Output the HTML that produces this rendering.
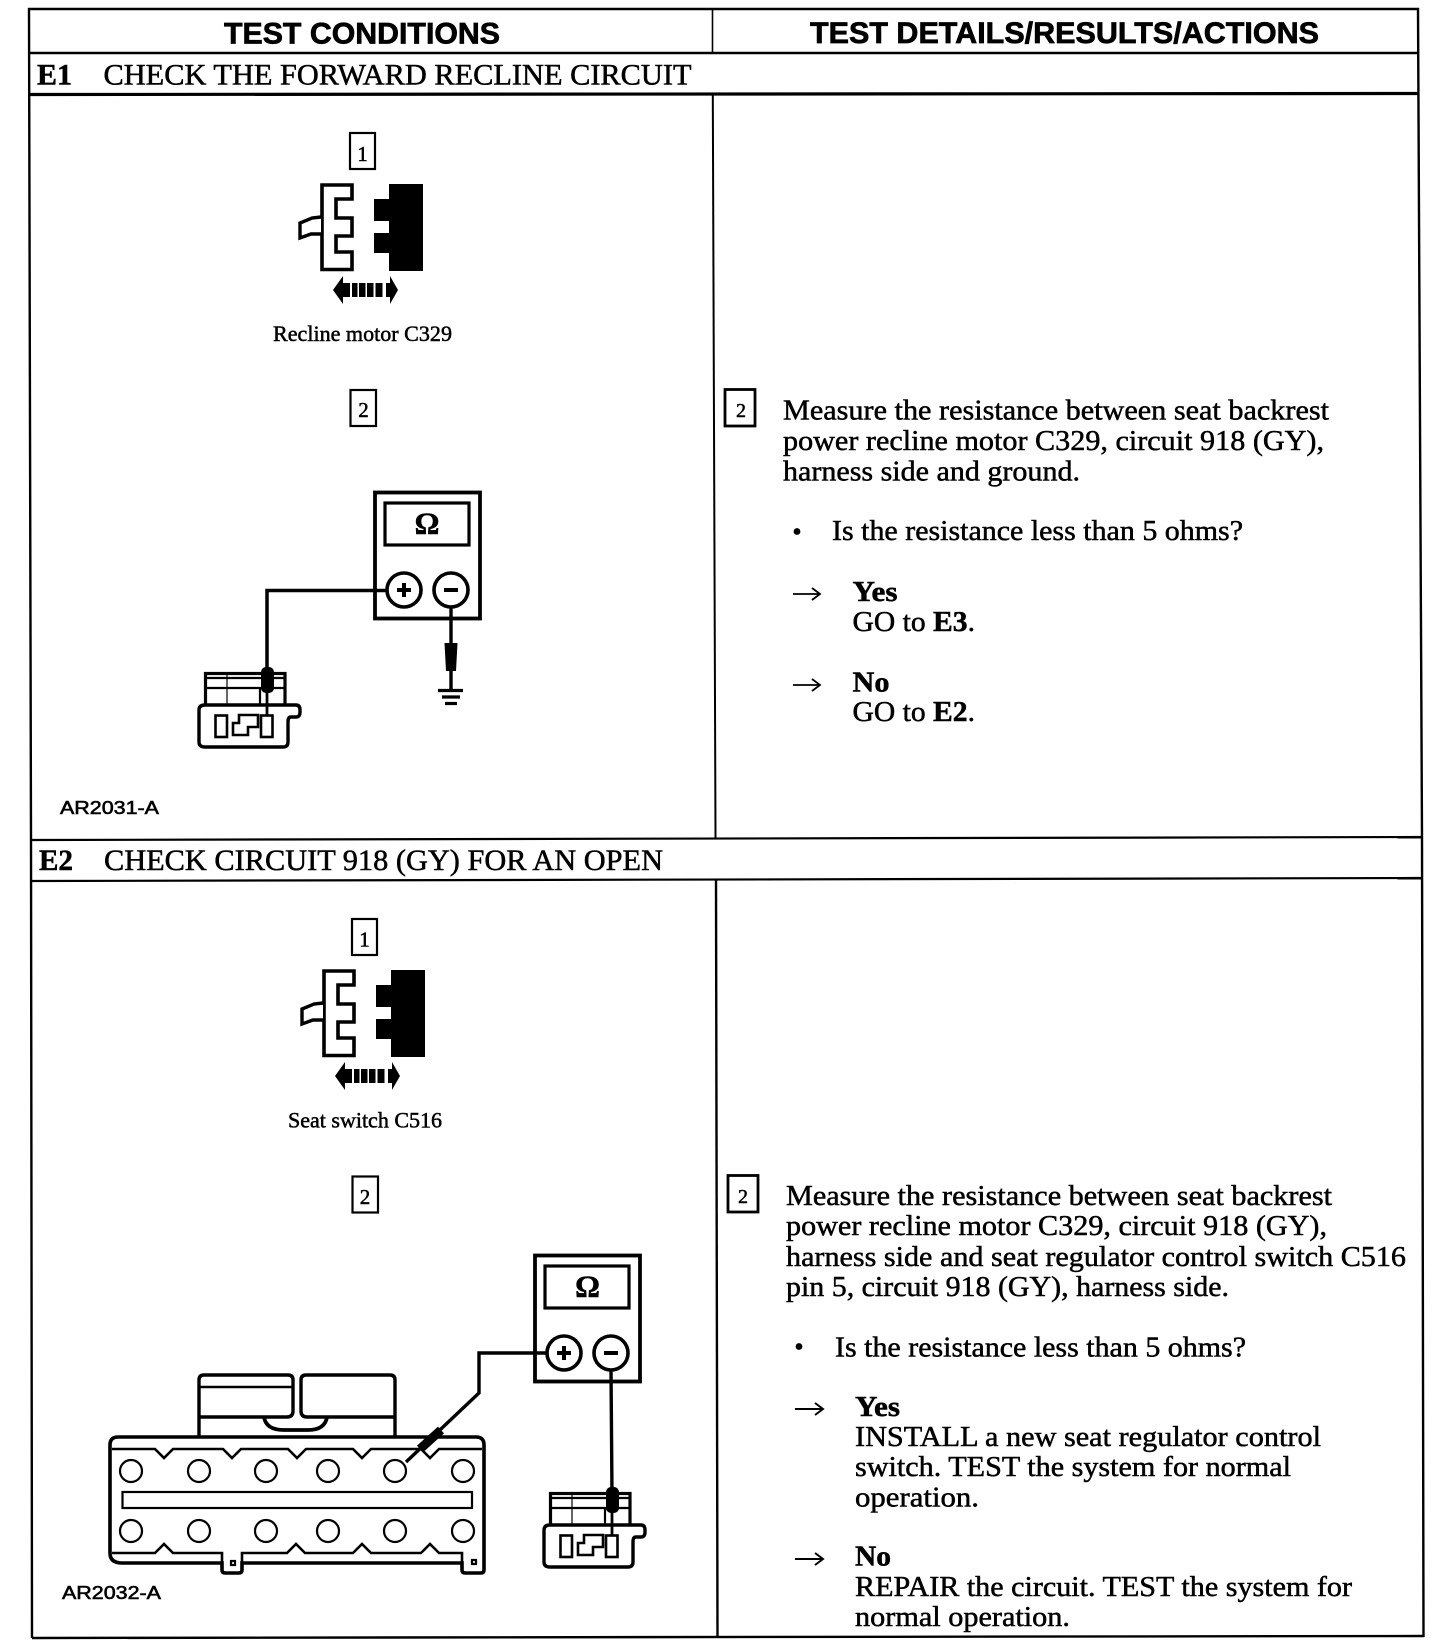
<!DOCTYPE html>
<html lang="en">
<head>
<meta charset="utf-8">
<title>Test Conditions E1 E2</title>
<style>
html,body{margin:0;padding:0;background:#fff;width:1456px;height:1648px;overflow:hidden}
svg{display:block}
.s{font-family:"Liberation Serif",serif;fill:#000;stroke:#000;stroke-width:.5}
.h{font-family:"Liberation Sans",sans-serif;font-weight:bold;fill:#000;stroke:#000;stroke-width:.7}
.a{font-family:"Liberation Sans",sans-serif;fill:#000;stroke:#000;stroke-width:.6}
.b{font-weight:bold}
.l{fill:none;stroke:#000}
</style>
</head>
<body>
<svg xmlns="http://www.w3.org/2000/svg" width="1456" height="1648" viewBox="0 0 1456 1648">
<defs>
<g id="conn1">
  <path d="M352 185V199H336V218H352V236H336V252H352V269.500H322V185Z" fill="#fff" stroke="#000" stroke-width="3.6"/>
  <path d="M321 217L312 218L300 223V238L311 234L321 234" fill="#fff" stroke="#000" stroke-width="3.4"/>
  <path d="M389 184H423V271H389V253H374V233H389V221H374V199H389Z" fill="#000"/>
  <path d="M333 290L343 276V283H350V297H343V304Z" fill="#000"/>
  <path d="M398 290L390 276V283H386V297H390V304Z" fill="#000"/>
  <rect x="352" y="283" width="5.500" height="14"/><rect x="359" y="283" width="6.500" height="14"/>
  <rect x="367" y="283" width="6.500" height="14"/><rect x="375.500" y="283" width="7" height="14"/>
</g>
<g id="meter">
  <rect x="375" y="492.500" width="105" height="126" fill="#fff" stroke="#000" stroke-width="3.800"/>
  <rect x="385" y="503" width="84" height="42" fill="#fff" stroke="#000" stroke-width="3.200"/>
  <circle cx="404" cy="590" r="17" fill="#fff" stroke="#000" stroke-width="3.600"/>
  <circle cx="451" cy="590" r="17" fill="#fff" stroke="#000" stroke-width="3.600"/>
  <path d="M397 590H411M404 583V597M444 590H458" class="l" stroke-width="4"/>
</g>
<g id="conn2">
  <rect x="205.500" y="673.500" width="79.500" height="32" fill="#fff" stroke="#000" stroke-width="3.200"/>
  <path d="M205 678H285M205 688H285" class="l" stroke-width="2.200"/>
  <path d="M227 673V705" class="l" stroke-width="1.200"/>
  <path d="M260 688V705" class="l" stroke-width="2.200"/>
  <path d="M205 705H296Q300 705 300 710V712Q300 717 296 717H291Q288 717 288 722V742Q288 747 283 747H205Q199 747 199 742V710Q199 705 205 705Z" fill="#fff" stroke="#000" stroke-width="3.400"/>
  <rect x="215.500" y="715.500" width="11.500" height="21.500" fill="#fff" stroke="#000" stroke-width="2.600"/>
  <rect x="261" y="715.500" width="11.500" height="21.500" fill="#fff" stroke="#000" stroke-width="2.600"/>
  <path d="M233 735V723H239V715H258V727H248V735Z" fill="#fff" stroke="#000" stroke-width="2.600"/>
  <rect x="261" y="667" width="13" height="26" rx="5" fill="#000"/>
  <path d="M267 690V716" class="l" stroke-width="2.800"/>
</g>
</defs>

<!-- table lines -->
<g class="l">
  <path d="M28 9H1419" stroke-width="2.400"/>
  <path d="M29 53H1418" stroke-width="2.600"/>
  <path d="M29 94.500L1418 93.500" stroke-width="3.200"/>
  <path d="M29 8L31 840L32 1638" stroke-width="2.400"/>
  <path d="M712.500 9V53" stroke-width="1.600"/>
  <path d="M712.800 94L715.500 838" stroke-width="2"/>
  <path d="M716 880L717.500 1637" stroke-width="2.400"/>
  <path d="M1418 8L1422 837L1423.500 1637" stroke-width="2.400"/>
  <path d="M31 840L1422 837" stroke-width="2.200"/>
  <path d="M31 881L1422 878" stroke-width="2.200"/>
  <path d="M32 1638L1424 1636" stroke-width="2.400"/>
</g>

<!-- headers -->
<text class="h" x="224" y="43.500" font-size="30" textLength="276" lengthAdjust="spacingAndGlyphs">TEST CONDITIONS</text>
<text class="h" x="810" y="43" font-size="30" textLength="509" lengthAdjust="spacingAndGlyphs">TEST DETAILS/RESULTS/ACTIONS</text>

<text class="s b" x="37" y="84.500" font-size="30" textLength="35" lengthAdjust="spacingAndGlyphs">E1</text>
<text class="s" x="103.500" y="84.500" font-size="30" textLength="588" lengthAdjust="spacingAndGlyphs">CHECK THE FORWARD RECLINE CIRCUIT</text>
<text class="s b" x="39" y="870" font-size="30" textLength="34" lengthAdjust="spacingAndGlyphs">E2</text>
<text class="s" x="104" y="870" font-size="30" textLength="559" lengthAdjust="spacingAndGlyphs">CHECK CIRCUIT 918 (GY) FOR AN OPEN</text>

<!-- E1 left -->
<rect x="350" y="133" width="25" height="36" fill="#fff" stroke="#000" stroke-width="2.200"/>
<text class="s" x="362.500" y="161" font-size="21" text-anchor="middle">1</text>
<use href="#conn1"/>
<text class="s" x="273" y="341" font-size="22" textLength="179" lengthAdjust="spacingAndGlyphs">Recline motor C329</text>
<rect x="350.500" y="390" width="25.500" height="36" fill="#fff" stroke="#000" stroke-width="2.200"/>
<text class="s" x="363.500" y="417" font-size="21" text-anchor="middle">2</text>
<use href="#conn2"/>
<use href="#meter"/>
<path d="M387 590.500H267V670" class="l" stroke-width="3.500"/>
<path d="M451 607V690" class="l" stroke-width="3.400"/>
<path d="M444.500 643H457.500L456 671H446Z" fill="#000"/>
<path d="M438 690.500H463" class="l" stroke-width="3.200"/>
<path d="M442 697H460" class="l" stroke-width="3.200"/>
<path d="M445 703.500H457" class="l" stroke-width="3.200"/>
<text class="s b" x="427" y="533.500" font-size="31" text-anchor="middle">Ω</text>
<text class="a" x="60" y="814" font-size="18.500" textLength="99" lengthAdjust="spacingAndGlyphs">AR2031-A</text>

<!-- E1 right -->
<rect x="725" y="389.500" width="30" height="36.500" fill="#fff" stroke="#000" stroke-width="2.800"/>
<text class="s" x="741" y="417" font-size="20" text-anchor="middle">2</text>
<text class="s" x="783" y="419.500" font-size="29" textLength="546" lengthAdjust="spacingAndGlyphs">Measure the resistance between seat backrest</text>
<text class="s" x="783" y="450" font-size="29" textLength="541" lengthAdjust="spacingAndGlyphs">power recline motor C329, circuit 918 (GY),</text>
<text class="s" x="783" y="480.500" font-size="29" textLength="297" lengthAdjust="spacingAndGlyphs">harness side and ground.</text>
<circle cx="797" cy="531.500" r="3.400"/>
<text class="s" x="832" y="540" font-size="29" textLength="411" lengthAdjust="spacingAndGlyphs">Is the resistance less than 5 ohms?</text>
<path d="M793 594H819M812 588L820 594L812 600" class="l" stroke-width="1.800"/>
<text class="s b" x="852.500" y="601" font-size="29" textLength="45" lengthAdjust="spacingAndGlyphs">Yes</text>
<text class="s" x="852.500" y="631" font-size="29" textLength="122.500" lengthAdjust="spacingAndGlyphs">GO to <tspan class="b">E3</tspan>.</text>
<path d="M793 685H819M812 679L820 685L812 691" class="l" stroke-width="1.800"/>
<text class="s b" x="852.500" y="691.500" font-size="29" textLength="37" lengthAdjust="spacingAndGlyphs">No</text>
<text class="s" x="852.500" y="721" font-size="29" textLength="122.500" lengthAdjust="spacingAndGlyphs">GO to <tspan class="b">E2</tspan>.</text>

<!-- E2 left -->
<rect x="352" y="919" width="25" height="36" fill="#fff" stroke="#000" stroke-width="2.200"/>
<text class="s" x="364.500" y="946.500" font-size="21" text-anchor="middle">1</text>
<use href="#conn1" transform="translate(2 786)"/>
<text class="s" x="288" y="1127.500" font-size="22" textLength="154" lengthAdjust="spacingAndGlyphs">Seat switch C516</text>
<rect x="352.500" y="1176.500" width="25.500" height="36" fill="#fff" stroke="#000" stroke-width="2.200"/>
<text class="s" x="365" y="1204" font-size="21" text-anchor="middle">2</text>

<!-- large connector -->
<path d="M199 1438V1380Q199 1375 204 1375H288Q293 1375 293 1380V1411Q293 1417 287 1417H199" class="l" stroke-width="3.400"/>
<path d="M199 1387H293" class="l" stroke-width="2.600"/>
<path d="M395 1417H307Q301 1417 301 1411V1380Q301 1375 306 1375H390Q395 1375 395 1380V1438" class="l" stroke-width="3.400"/>
<path d="M264 1417Q266 1430 284 1430H308Q325 1430 327 1417" class="l" stroke-width="3.800"/>
<path d="M118 1437H476Q484 1437 484 1445V1570Q484 1573 481 1573H465Q462 1573 462 1570V1563H242V1570Q242 1573 239 1573H225Q222 1573 222 1570V1563H122Q110 1563 110 1553V1445Q110 1437 118 1437Z" fill="#fff" stroke="#000" stroke-width="3.600"/>
<path d="M112 1449H155L164 1458L173 1449H223L232 1458L241 1449H288L297 1458L306 1449H353L362 1458L371 1449H421L430 1458L439 1449H482" class="l" stroke-width="2.600"/>
<path d="M112 1553H155L164 1544L173 1553H222V1563M242 1563V1553H287L296 1544L305 1553H353L362 1544L371 1553H421L430 1544L439 1553H462V1563" class="l" stroke-width="2.600"/>
<g fill="#fff" stroke="#000" stroke-width="2.200">
  <circle cx="131" cy="1471" r="11"/><circle cx="199" cy="1471" r="11"/><circle cx="266" cy="1471" r="11"/>
  <circle cx="328" cy="1471" r="11"/><circle cx="395" cy="1471" r="11"/><circle cx="463" cy="1471" r="11"/>
  <circle cx="131" cy="1531" r="11"/><circle cx="199" cy="1531" r="11"/><circle cx="266" cy="1531" r="11"/>
  <circle cx="328" cy="1531" r="11"/><circle cx="395" cy="1531" r="11"/><circle cx="463" cy="1531" r="11"/>
  <rect x="122.500" y="1492" width="349.500" height="16"/>
  <rect x="231" y="1561" width="4" height="4"/><rect x="472" y="1560" width="4" height="4"/>
</g>

<!-- wires E2 -->
<use href="#conn2" transform="translate(345 820)"/>
<use href="#meter" transform="translate(160 763)"/>
<path d="M547 1353H479V1393L406 1462" class="l" stroke-width="3.400"/>
<path d="M441 1430L420 1449" class="l" stroke-width="9"/>
<path d="M611 1370L612 1495" class="l" stroke-width="3.400"/>
<text class="s b" x="587.500" y="1296.500" font-size="31" text-anchor="middle">Ω</text>
<text class="a" x="62" y="1599" font-size="18.500" textLength="99" lengthAdjust="spacingAndGlyphs">AR2032-A</text>

<!-- E2 right -->
<rect x="728" y="1175.500" width="30" height="36.500" fill="#fff" stroke="#000" stroke-width="2.800"/>
<text class="s" x="743" y="1203" font-size="20" text-anchor="middle">2</text>
<text class="s" x="786" y="1205" font-size="29" textLength="546" lengthAdjust="spacingAndGlyphs">Measure the resistance between seat backrest</text>
<text class="s" x="786" y="1235" font-size="29" textLength="541" lengthAdjust="spacingAndGlyphs">power recline motor C329, circuit 918 (GY),</text>
<text class="s" x="786" y="1266" font-size="29" textLength="620" lengthAdjust="spacingAndGlyphs">harness side and seat regulator control switch C516</text>
<text class="s" x="786" y="1296" font-size="29" textLength="443" lengthAdjust="spacingAndGlyphs">pin 5, circuit 918 (GY), harness side.</text>
<circle cx="799" cy="1346.500" r="3.400"/>
<text class="s" x="835" y="1356.500" font-size="29" textLength="411" lengthAdjust="spacingAndGlyphs">Is the resistance less than 5 ohms?</text>
<path d="M795 1409H822M815 1403L823 1409L815 1415" class="l" stroke-width="2"/>
<text class="s b" x="855" y="1416" font-size="29" textLength="45" lengthAdjust="spacingAndGlyphs">Yes</text>
<text class="s" x="855" y="1446" font-size="29" textLength="466" lengthAdjust="spacingAndGlyphs">INSTALL a new seat regulator control</text>
<text class="s" x="855" y="1476" font-size="29" textLength="436" lengthAdjust="spacingAndGlyphs">switch. TEST the system for normal</text>
<text class="s" x="855" y="1506.500" font-size="29" textLength="124" lengthAdjust="spacingAndGlyphs">operation.</text>
<path d="M795 1559H822M815 1553L823 1559L815 1565" class="l" stroke-width="2"/>
<text class="s b" x="855" y="1565.500" font-size="29" textLength="36" lengthAdjust="spacingAndGlyphs">No</text>
<text class="s" x="855" y="1596" font-size="29" textLength="497" lengthAdjust="spacingAndGlyphs">REPAIR the circuit. TEST the system for</text>
<text class="s" x="855" y="1626" font-size="29" textLength="215" lengthAdjust="spacingAndGlyphs">normal operation.</text>
</svg>
</body>
</html>
